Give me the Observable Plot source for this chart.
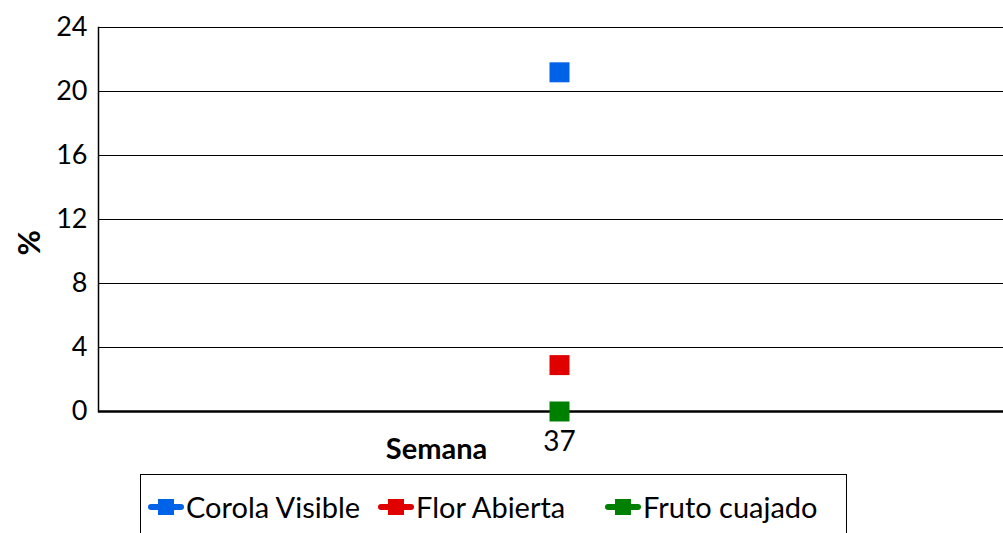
<!DOCTYPE html>
<html>
<head>
<meta charset="utf-8">
<script src="https://cdn.jsdelivr.net/npm/d3@7"></script>
<script src="https://cdn.jsdelivr.net/npm/@observablehq/plot@0.6"></script>
<style>
  html, body { margin: 0; padding: 0; background: #fff; overflow: hidden; }
  #wrap { position: relative; width: 1003px; height: 533px; font-family: Lato, "Open Sans", sans-serif; }
  #legend { position: absolute; left: 140px; top: 474px; width: 707px; height: 80px; border: 1px solid #000; box-sizing: border-box; background: #fff; }
  .item { position: absolute; top: 14px; display: flex; align-items: center; font-size: 29px; color: #000; white-space: nowrap; }
  .item svg { margin-right: 2px; }
</style>
</head>
<body>
<div id="wrap"></div>
<script>
const weeks = ["37"];
const seriesNames = ["Corola Visible", "Flor Abierta", "Fruto cuajado"];
const seriesColors = ["#0062E6", "#E00000", "#008000"];
const corolaVisible = [21.2];
const florAbierta = [2.9];
const frutoCuajado = [0];
const yTicks = [0, 4, 8, 12, 16, 20, 24];

const seriesValues = [corolaVisible, florAbierta, frutoCuajado];
const data = [];
seriesNames.forEach((s, i) => weeks.forEach((w, j) => data.push({series: s, week: w, value: seriesValues[i][j]})));

const chart = Plot.plot({
  width: 1003,
  height: 533,
  marginTop: 27,
  marginBottom: 122,
  marginLeft: 98,
  marginRight: 0,
  style: {fontFamily: "Lato, 'Open Sans', sans-serif", fontSize: "27px", color: "#000", background: "#fff"},
  x: {type: "point", domain: weeks, align: 0.509},
  y: {domain: [0, 24], ticks: yTicks},
  color: {domain: seriesNames, range: seriesColors},
  marks: [
    Plot.ruleY(yTicks.filter(d => d > 0), {stroke: "#000", strokeWidth: 1}),
    Plot.frame({anchor: "left", stroke: "#000", strokeWidth: 1.5}),
    Plot.ruleY([0], {stroke: "#000", strokeWidth: 2.5}),
    Plot.axisY({ticks: yTicks, tickSize: 0, tickPadding: 11, fontSize: "27px", label: null}),
    Plot.axisX({tickSize: 0, tickPadding: 20, fontSize: "28px", label: null}),
    Plot.text(["Semana"], {frameAnchor: "bottom-left", dx: 338, dy: 47, fontWeight: "bold", fontSize: "29px", textAnchor: "middle"}),
    Plot.text(["%"], {frameAnchor: "left", dx: -68, dy: 36, rotate: -90, fontWeight: "bold", fontSize: "31px"}),
    Plot.dot(data, {x: "week", y: "value", fill: "series", symbol: "square", r: 11.28, stroke: null})
  ]
});
document.getElementById("wrap").appendChild(chart);
chart.style.position = "absolute";
chart.style.left = "0px";
chart.style.top = "0px";

const legend = document.createElement("div");
legend.id = "legend";
const itemLeft = [7, 237, 464];
seriesNames.forEach((name, i) => {
  const it = document.createElement("div");
  it.className = "item";
  it.style.left = itemLeft[i] + "px";
  const c = seriesColors[i];
  it.innerHTML = `<svg width="36" height="20" viewBox="0 0 36 20"><line x1="3" y1="10" x2="33" y2="10" stroke="${c}" stroke-width="6" stroke-linecap="round"/><rect x="10" y="2" width="16" height="16" fill="${c}"/></svg><span>${name}</span>`;
  legend.appendChild(it);
});
document.getElementById("wrap").appendChild(legend);
</script>
</body>
</html>
